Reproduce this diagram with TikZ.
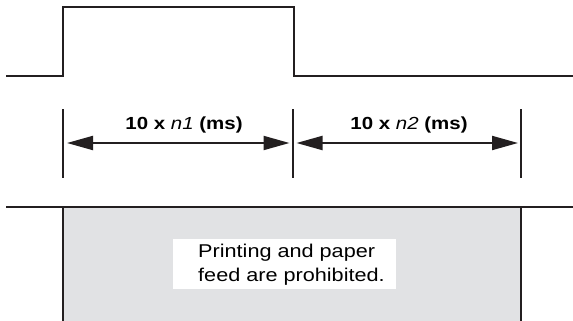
\documentclass[tikz,border=0pt]{standalone}
\usepackage{fontspec}
\setmainfont{Liberation Sans}[FakeStretch=1.17]
\usetikzlibrary{arrows.meta}
\definecolor{ink}{HTML}{231F20}
\definecolor{panelgray}{HTML}{E1E2E4}
\begin{document}
\begin{tikzpicture}[x=1pt,y=-1pt,
  wave/.style={draw=ink,line width=2pt},
  tick/.style={draw=ink,line width=2pt},
  dimarrow/.style={draw=ink,line width=2pt,{Triangle[length=26pt,width=14pt]}-{Triangle[length=26pt,width=14pt]},shorten <=4pt,shorten >=3pt},
  lbl/.style={font=\fontsize{17.5}{20}\selectfont\bfseries,anchor=base,inner sep=0pt},
  msgstyle/.style={font=\fontsize{18.5}{24}\selectfont,align=left,anchor=north west,inner sep=0pt}]
\useasboundingbox (0,0) rectangle (573,321);
% waveform 1
\coordinate (w0) at (6,76);
\coordinate (w1) at (62.5,76);
\coordinate (w2) at (62.5,7);
\coordinate (w3) at (293.5,7);
\coordinate (w4) at (293.5,76);
\coordinate (w5) at (573,76);
\draw[wave] (w0) -- (w1) -- (w2) -- (w3) -- (w4) -- (w5);
% dimension ticks
\coordinate (t1a) at (63,109); \coordinate (t1b) at (63,178);
\coordinate (t2a) at (292.5,109); \coordinate (t2b) at (292.5,178);
\coordinate (t3a) at (521,109); \coordinate (t3b) at (521,178);
\draw[tick] (t1a) -- (t1b);
\draw[tick] (t2a) -- (t2b);
\draw[tick] (t3a) -- (t3b);
\coordinate (a1) at (63,143); \coordinate (a2) at (292.5,143); \coordinate (a3) at (521,143);
\draw[dimarrow] (a1) -- (a2);
\draw[dimarrow] (a2) -- (a3);
\node[lbl] (l1) at (184,129) {10 x \textit{\mdseries n1} (ms)};
\node[lbl] (l2) at (409,129) {10 x \textit{\mdseries n2} (ms)};
% waveform 2
\fill[panelgray] (62.5,207) rectangle (521,321);
\coordinate (b0) at (6,207);
\coordinate (b1) at (573,207);
\coordinate (bl1) at (62.5,207); \coordinate (bl2) at (62.5,322);
\coordinate (br1) at (521,207); \coordinate (br2) at (521,322);
\draw[wave] (bl1) -- (bl2);
\draw[wave] (br1) -- (br2);
\draw[wave] (b0) -- (b1);
\node[fill=white,minimum width=223pt,minimum height=50pt,inner sep=0pt] (box) at (284.5,264) {};
\node[msgstyle] (msg) at (198,244) {Printing and paper\\feed are prohibited.};
\end{tikzpicture}
\end{document}
